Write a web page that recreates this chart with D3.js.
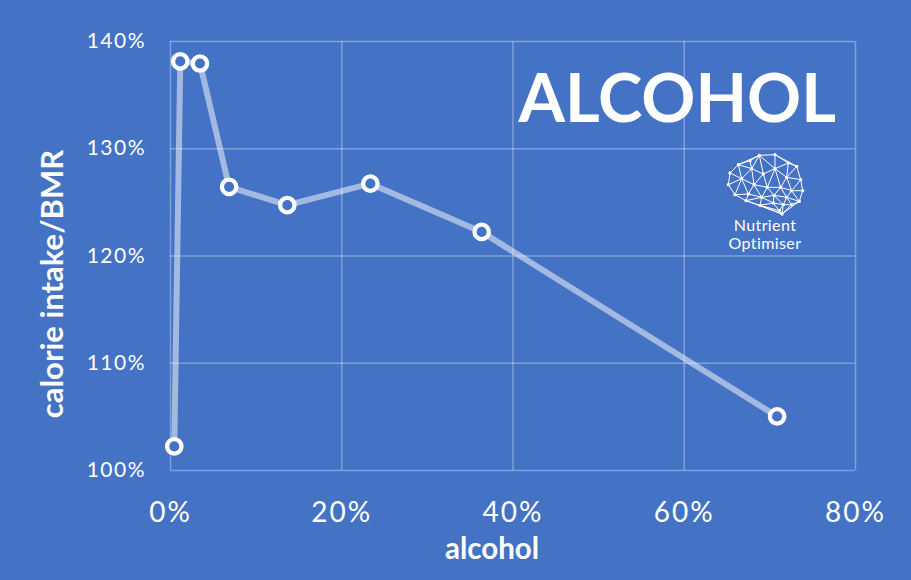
<!DOCTYPE html>
<html>
<head>
<meta charset="utf-8">
<script src="https://cdn.jsdelivr.net/npm/d3@7"></script>
<style>
  html, body { margin: 0; padding: 0; background: #4472C4; }
  svg { display: block; }
</style>
</head>
<body>
<svg id="chart" width="911" height="580"></svg>
<script>
// ---- data ----
const alcoholPct = [0.5, 1.2, 3.5, 6.9, 13.7, 23.4, 36.4, 70.9];
const calorieRatio = [102.2, 138.1, 137.9, 126.4, 124.7, 126.7, 122.2, 105.0];
const xTicks = [0, 20, 40, 60, 80];
const yTicks = [100, 110, 120, 130, 140];
const chartTitle = "ALCOHOL";
const xLabel = "alcohol";
const yLabel = "calorie intake/BMR";
const logoLines = ["Nutrient", "Optimiser"];
// brain icon node sketch (logo artwork outline, in icon units)
const brainNodes = [
  [30,75],[55,50],[90,38],[118,22],[165,20],[205,45],[230,55],[242,95],[248,128],
  [238,160],[215,170],[190,170],[178,188],[186,198],[160,165],[120,172],[78,158],
  [45,140],[25,110],[95,62],[130,78],[165,62],[200,88],[65,92],[102,110],[142,118],
  [182,118],[215,128],[85,138],[125,148],[162,142],[200,148]
];

const svg = d3.select("#chart");
const W = 911, H = 580;
const margin = {left: 170, right: 56, top: 41, bottom: 110};

svg.append("rect").attr("width", W).attr("height", H).attr("fill", "#4472C4");

const x = d3.scaleLinear().domain([0, 80]).range([margin.left, W - margin.right]);
const y = d3.scaleLinear().domain([100, 140]).range([H - margin.bottom, margin.top]);

const gridColor = "rgba(255,255,255,0.32)";

// vertical grid
svg.append("g")
  .attr("transform", `translate(0,${H - margin.bottom})`)
  .call(d3.axisBottom(x).tickValues(xTicks).tickSize(-(H - margin.bottom - margin.top)).tickFormat(""))
  .call(g => g.select(".domain").remove())
  .call(g => g.selectAll("line").attr("stroke", gridColor).attr("stroke-width", 1.5));

// horizontal grid
svg.append("g")
  .attr("transform", `translate(${margin.left},0)`)
  .call(d3.axisLeft(y).tickValues(yTicks).tickSize(-(W - margin.right - margin.left)).tickFormat(""))
  .call(g => g.select(".domain").remove())
  .call(g => g.selectAll("line").attr("stroke", gridColor).attr("stroke-width", 1.5));

// x tick labels
const xAxis = svg.append("g")
  .attr("transform", `translate(0,${H - margin.bottom})`)
  .call(d3.axisBottom(x).tickValues(xTicks).tickSize(0).tickPadding(32).tickFormat(d => d + "%"));
xAxis.select(".domain").remove();
xAxis.selectAll("text")
  .attr("fill", "#fff")
  .style("font-family", "Lato, 'Open Sans', sans-serif")
  .style("font-size", "28px")
  .style("letter-spacing", "2px");

// y tick labels
const yAxis = svg.append("g")
  .attr("transform", `translate(${margin.left},0)`)
  .call(d3.axisLeft(y).tickValues(yTicks).tickSize(0).tickPadding(24).tickFormat(d => d + "%"));
yAxis.select(".domain").remove();
yAxis.selectAll("text")
  .attr("fill", "#fff")
  .style("font-family", "Lato, 'Open Sans', sans-serif")
  .style("font-size", "21px")
  .style("letter-spacing", "1.5px");

// axis titles
svg.append("text")
  .attr("x", 492).attr("y", 559)
  .attr("text-anchor", "middle")
  .attr("fill", "#fff")
  .style("font-family", "Lato, 'Open Sans', sans-serif")
  .style("font-weight", "bold")
  .style("font-size", "29.5px")
  .text(xLabel);

svg.append("text")
  .attr("transform", `translate(63,${284}) rotate(-90)`)
  .attr("text-anchor", "middle")
  .attr("fill", "#fff")
  .style("font-family", "Lato, 'Open Sans', sans-serif")
  .style("font-weight", "bold")
  .style("font-size", "31px")
  .text(yLabel);

// line
const pts = alcoholPct.map((v, i) => [v, calorieRatio[i]]);
svg.append("path")
  .datum(pts)
  .attr("fill", "none")
  .attr("stroke", "rgba(255,255,255,0.5)")
  .attr("stroke-width", 6)
  .attr("stroke-linejoin", "round")
  .attr("d", d3.line().x(d => x(d[0])).y(d => y(d[1])));

// markers
svg.append("g").selectAll("circle")
  .data(pts)
  .join("circle")
  .attr("cx", d => x(d[0]))
  .attr("cy", d => y(d[1]))
  .attr("r", 7.2)
  .attr("fill", "#4472C4")
  .attr("stroke", "#fff")
  .attr("stroke-width", 4.3);

// title
svg.append("text")
  .attr("x", 836).attr("y", 122)
  .attr("text-anchor", "end")
  .attr("fill", "#fff")
  .style("font-family", "Lato, 'Open Sans', sans-serif")
  .style("font-weight", "bold")
  .style("font-size", "67px")
  .text(chartTitle);

// logo
const logo = svg.append("g").attr("transform", "translate(720,148) scale(0.3333)");
const delaunay = d3.Delaunay.from(brainNodes);
logo.append("path")
  .attr("d", delaunay.render())
  .attr("fill", "none")
  .attr("stroke", "#fff")
  .attr("stroke-width", 3);
logo.selectAll("circle")
  .data(brainNodes)
  .join("circle")
  .attr("cx", d => d[0]).attr("cy", d => d[1])
  .attr("r", 5).attr("fill", "#fff");

svg.append("g").selectAll("text")
  .data(logoLines)
  .join("text")
  .attr("x", 765)
  .attr("y", (d, i) => 231 + i * 18)
  .attr("text-anchor", "middle")
  .attr("fill", "#fff")
  .style("font-family", "Lato, 'Open Sans', sans-serif")
  .style("font-size", "16px")
  .style("letter-spacing", "0.4px")
  .text(d => d);
</script>
</body>
</html>
